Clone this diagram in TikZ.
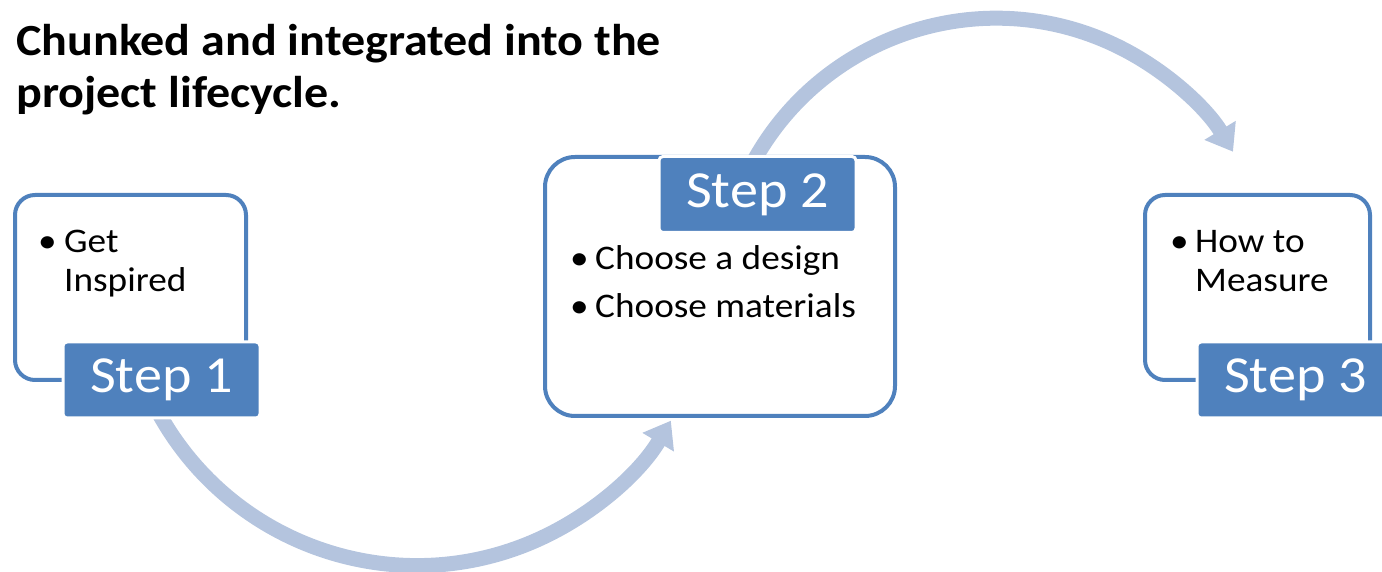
\documentclass[tikz,border=0pt]{standalone}
\usepackage{fontspec}
\setmainfont{Carlito}[FakeStretch=1.08]
\usepackage{tikz}
\usetikzlibrary{arrows.meta}

\definecolor{boxblue}{RGB}{79,129,189}
\definecolor{cycleblue}{RGB}{180,196,222}

\tikzset{
  stepframe/.style={draw=boxblue, line width=4pt, fill=white, inner sep=0pt},
  steptag/.style={fill=boxblue, draw=white, line width=3pt, rounded corners=4pt,
    text=white, minimum width=197pt, minimum height=76pt, inner sep=0pt,
    font=\fontsize{52}{62}\selectfont},
  itemtext/.style={anchor=base west, inner sep=0pt, font=\fontsize{34.5}{40}\selectfont},
  titletext/.style={anchor=base west, inner sep=0pt, font=\fontsize{44.5}{53}\selectfont\bfseries},
  cyclearrow/.style={draw=cycleblue, line width=15pt, -{Triangle[width=35pt,length=25pt]}}
}

\begin{document}
\begin{tikzpicture}[x=1pt,y=1pt]
\useasboundingbox (0,0) rectangle (1382,572);
\clip (0,0) rectangle (1382,572);

% Title
\node[titletext] (title1) at (16,516) {Chunked and integrated into the};
\node[titletext] (title2) at (16,464) {project lifecycle.};

% Arrows (behind the boxes)
\coordinate (lowstart) at (149.6,176.8);
\draw[cyclearrow] (lowstart) arc[start angle=205, end angle=329.4, radius=295pt];
\coordinate (highstart) at (751.5,406.8);
\draw[cyclearrow] (highstart) arc[start angle=152, end angle=31.2, radius=277pt];

% Frames
\node[stepframe, rounded corners=20pt, minimum width=231pt, minimum height=185pt] (frame1) at (130.5,284.5) {};
\node[stepframe, rounded corners=30pt, minimum width=350pt, minimum height=259pt] (frame2) at (720,285.5) {};
\node[stepframe, rounded corners=20pt, minimum width=225pt, minimum height=185pt] (frame3) at (1257.5,284.5) {};

% Tags
\node[steptag] (tag1) at (161.5,192) {Step 1};
\node[steptag] (tag2) at (757.5,377.5) {Step 2};
\node[steptag] (tag3) at (1295.5,192) {Step 3};

% Step 1
\node[itemtext] (dot1) at (38,319) {\textbullet};
\node[itemtext] (get) at (64,319) {Get};
\node[itemtext] (inspired) at (64,280) {Inspired};

% Step 2
\node[itemtext] (dot2a) at (570,302) {\textbullet};
\node[itemtext] (design) at (595,302) {Choose a design};
\node[itemtext] (dot2b) at (570,254) {\textbullet};
\node[itemtext] (materials) at (595,254) {Choose materials};

% Step 3
\node[itemtext] (dot3) at (1170,319) {\textbullet};
\node[itemtext] (howto) at (1195,319) {How to};
\node[itemtext] (measure) at (1195,280) {Measure};
\end{tikzpicture}
\end{document}
